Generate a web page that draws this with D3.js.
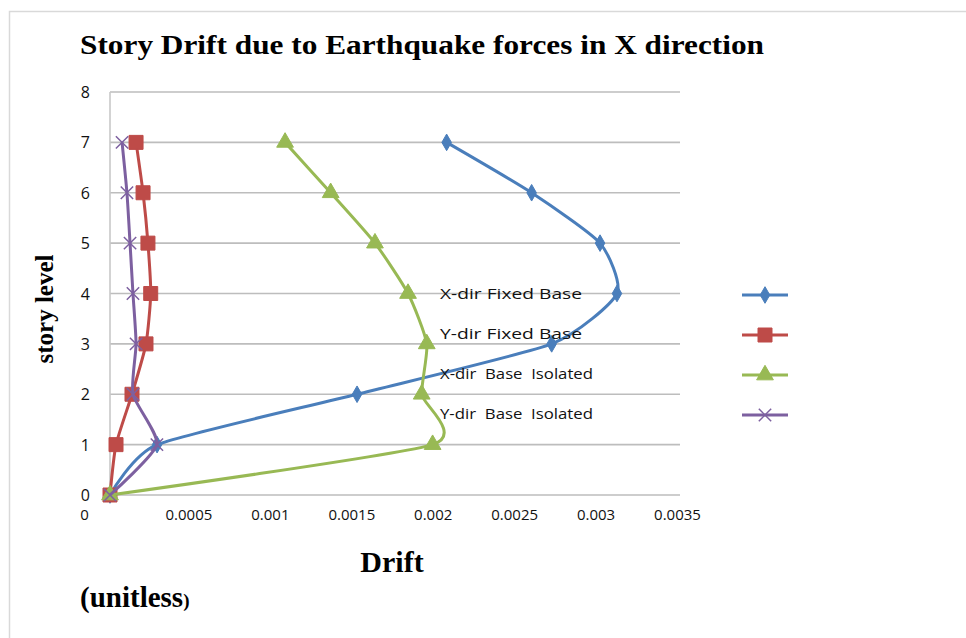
<!DOCTYPE html>
<html>
<head>
<meta charset="utf-8">
<script src="https://cdn.jsdelivr.net/npm/d3@7"></script>
<style>
  html, body { margin: 0; padding: 0; background: #fff; }
  svg { display: block; }
</style>
</head>
<body>
<svg id="chart" width="966" height="638"></svg>
<script>
// ---- data ----
const stories = [0, 1, 2, 3, 4, 5, 6, 7];
const xFixed   = [0, 0.000289, 0.001517, 0.002712, 0.003113, 0.003009, 0.002589, 0.002067];
const yFixed   = [0, 0.000037, 0.000135, 0.000221, 0.000250, 0.000233, 0.000203, 0.000160];
const xIsol    = [0, 0.001981, 0.001914, 0.001945, 0.001830, 0.001627, 0.001355, 0.001075];
const yIsol    = [0, 0.000288, 0.000141, 0.000160, 0.000141, 0.000123, 0.000104, 0.000074];
const seriesNames = ["X-dir Fixed Base", "Y-dir Fixed Base", "X-dir  Base  Isolated", "Y-dir  Base  Isolated"];
const xTicks = [0, 0.0005, 0.001, 0.0015, 0.002, 0.0025, 0.003, 0.0035];
const xTickLabels = ["0", "0.0005", "0.001", "0.0015", "0.002", "0.0025", "0.003", "0.0035"];
const yTicks = [0, 1, 2, 3, 4, 5, 6, 7, 8];

const colors = ["#4A7EBB", "#BE4B48", "#98B954", "#7D60A0"];
const symbols = ["diamond", "square", "triangle", "cross"];

const svg = d3.select("#chart");

// frame
svg.append("path").attr("d", "M9.5,638 L9.5,11.5 L966,11.5")
  .attr("fill", "none").attr("stroke", "#d9d9d9").attr("stroke-width", 1.5);

const x = d3.scaleLinear().domain([0, 0.0035]).range([110, 680]);
const y = d3.scaleLinear().domain([0, 8]).range([495, 92]);

// gridlines
svg.append("g").selectAll("line").data(yTicks).join("line")
  .attr("x1", x(0)).attr("x2", x(0.0035))
  .attr("y1", d => y(d)).attr("y2", d => y(d))
  .attr("stroke", "#bdbdbd").attr("stroke-width", 1.6);
// y axis line
svg.append("line").attr("x1", x(0)).attr("x2", x(0)).attr("y1", y(0)).attr("y2", y(8))
  .attr("stroke", "#c8c8c8").attr("stroke-width", 1.6);

// axes tick labels
const xAxis = d3.axisBottom(x).tickValues(xTicks)
  .tickFormat((d, i) => xTickLabels[i]).tickSize(0).tickPadding(0);
const gx = svg.append("g").attr("transform", `translate(0,${y(0) + 20})`).call(xAxis);
gx.select(".domain").remove();
gx.selectAll("text")
  .attr("font-family", "'Open Sans', sans-serif").attr("font-size", 15)
  .attr("fill", "#111").attr("dy", "0.35em")
  .attr("dx", (d) => d === 0 ? -26 : -3);

const yAxis = d3.axisLeft(y).tickValues(yTicks).tickFormat(d3.format("d")).tickSize(0).tickPadding(0);
const gy = svg.append("g").attr("transform", `translate(${x(0) - 20},0)`).call(yAxis);
gy.select(".domain").remove();
gy.selectAll("text")
  .attr("font-family", "'Open Sans', sans-serif").attr("font-size", 16)
  .attr("fill", "#111").attr("dy", "0.35em");

// series
const allSeries = [xFixed, yFixed, xIsol, yIsol];
const line = d3.line()
  .x(d => x(d[0])).y(d => y(d[1]))
  .curve(d3.curveCardinal.tension(0.4));

const symbolPath = (type, s) => {
  if (type === "diamond") return d3.symbol(d3.symbolDiamond, s * s * 0.55)();
  if (type === "square") return d3.symbol(d3.symbolSquare, s * s)();
  if (type === "triangle") return d3.symbol(d3.symbolTriangle, s * s * 0.62)();
  return d3.symbol(d3.symbolTimes, s * s * 0.6)();
};

allSeries.forEach((vals, si) => {
  const pts = vals.map((v, i) => [v, stories[i]]);
  const g = svg.append("g");
  g.append("path").attr("d", line(pts))
    .attr("fill", "none").attr("stroke", colors[si]).attr("stroke-width", 3)
    .attr("stroke-linejoin", "round");
  const sz = [12, 14, 14, 13][si];
  g.selectAll("path.m").data(pts).join("path").attr("class", "m")
    .attr("transform", d => `translate(${x(d[0])},${y(d[1])})`)
    .attr("d", symbolPath(symbols[si], sz))
    .attr("fill", symbols[si] === "cross" ? "none" : colors[si])
    .attr("stroke", colors[si])
    .attr("stroke-width", symbols[si] === "cross" ? 1.5 : 1);
});

// series labels (text box)
svg.append("g").selectAll("text").data(seriesNames).join("text")
  .attr("x", 440).attr("y", (d, i) => 294 + i * 40).attr("dy", "0.35em")
  .attr("font-family", "'Open Sans', sans-serif").attr("font-size", 15)
  .attr("fill", "#111")
  .style("white-space", "pre")
  .attr("textLength", (d, i) => [142, 142, 153, 153][i])
  .attr("lengthAdjust", "spacingAndGlyphs")
  .text(d => d);

// legend (markers only)
const leg = svg.append("g");
colors.forEach((c, i) => {
  const ly = 295 + i * 40;
  leg.append("line").attr("x1", 742).attr("x2", 788).attr("y1", ly).attr("y2", ly)
    .attr("stroke", c).attr("stroke-width", 3);
  leg.append("path").attr("transform", `translate(765,${ly})`)
    .attr("d", symbolPath(symbols[i], [12, 14, 14, 13][i]))
    .attr("fill", symbols[i] === "cross" ? "none" : c)
    .attr("stroke", c).attr("stroke-width", symbols[i] === "cross" ? 1.5 : 1);
});

// titles
svg.append("text").attr("x", 80).attr("y", 54)
  .attr("font-family", "'Liberation Serif', 'Times New Roman', serif")
  .attr("font-weight", "bold").attr("font-size", 27).attr("fill", "#000")
  .attr("textLength", 684).attr("lengthAdjust", "spacingAndGlyphs")
  .text("Story Drift due to Earthquake forces in X direction");

svg.append("text").attr("transform", "translate(53,309) rotate(-90)")
  .attr("text-anchor", "middle")
  .attr("font-family", "'Liberation Serif', 'Times New Roman', serif")
  .attr("font-weight", "bold").attr("font-size", 25).attr("fill", "#000")
  .text("story level");

svg.append("text").attr("x", 392).attr("y", 572).attr("text-anchor", "middle")
  .attr("font-family", "'Liberation Serif', 'Times New Roman', serif")
  .attr("font-weight", "bold").attr("font-size", 30).attr("fill", "#000")
  .text("Drift");

const ut = svg.append("text").attr("x", 80).attr("y", 607)
  .attr("font-family", "'Liberation Serif', 'Times New Roman', serif")
  .attr("font-weight", "bold").attr("font-size", 29).attr("fill", "#000");
ut.append("tspan").text("(unitless");
ut.append("tspan").attr("font-size", 19).text(")");
</script>
</body>
</html>
